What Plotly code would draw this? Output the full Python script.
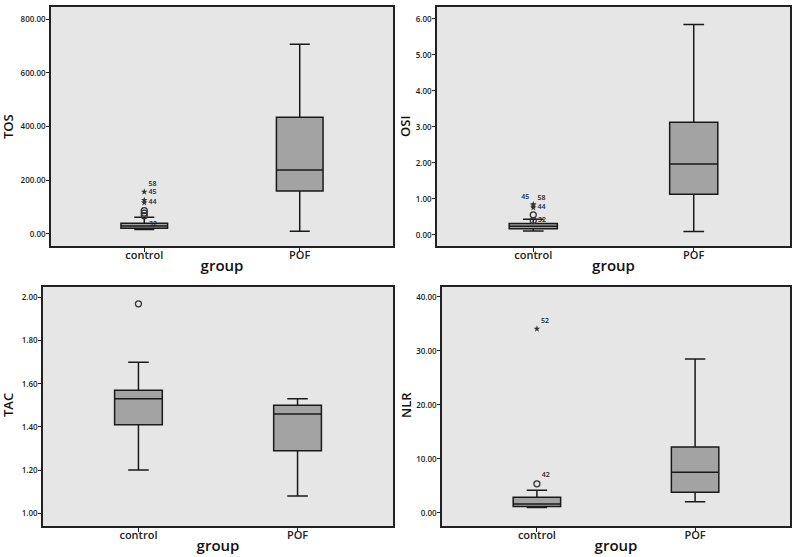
import plotly.graph_objects as go

groups = ["control", "POF"]

# box stats per panel: lower whisker, Q1, median, Q3, upper whisker (control, POF)
tos_low = [17, 10]
tos_q1 = [21, 160]
tos_med = [30, 238]
tos_q3 = [40, 434]
tos_high = [62, 706]
tos_circ = [87, 78, 68]
tos_circ_lbl = ["", "", "32"]
tos_star = [157, 126, 117]
tos_star_lbl = ["58", "45", "44"]

osi_low = [0.11, 0.10]
osi_q1 = [0.17, 1.13]
osi_med = [0.24, 1.97]
osi_q3 = [0.32, 3.13]
osi_high = [0.44, 5.85]
osi_circ = [0.56, 0.40]
osi_circ_lbl = ["", "32"]
osi_star = [0.85, 0.82, 0.76]
osi_star_lbl = ["45", "58", "44"]

tac_low = [1.20, 1.08]
tac_q1 = [1.41, 1.29]
tac_med = [1.53, 1.46]
tac_q3 = [1.57, 1.50]
tac_high = [1.70, 1.53]
tac_circ = [1.97]
tac_circ_lbl = [""]
tac_star = []
tac_star_lbl = []

nlr_low = [1.0, 2.1]
nlr_q1 = [1.22, 3.83]
nlr_med = [1.66, 7.54]
nlr_q3 = [2.93, 12.2]
nlr_high = [4.2, 28.5]
nlr_circ = [5.4]
nlr_circ_lbl = ["42"]
nlr_star = [34.1]
nlr_star_lbl = ["52"]

panels = [
    dict(name="TOS", low=tos_low, q1=tos_q1, med=tos_med, q3=tos_q3, high=tos_high,
         circ=tos_circ, circ_lbl=tos_circ_lbl, star=tos_star, star_lbl=tos_star_lbl,
         circ_pos=["middle right", "middle right", "bottom right"],
         star_pos=["top right", "top right", "middle right"],
         yrange=[-44.7, 844.7], dtick=200, title_xy=(8, 127),
         dx=[51 / 800, 393 / 800], dy=[1 - 246 / 557, 1 - 7 / 557]),
    dict(name="OSI", low=osi_low, q1=osi_q1, med=osi_med, q3=osi_q3, high=osi_high,
         circ=osi_circ, circ_lbl=osi_circ_lbl, star=osi_star, star_lbl=osi_star_lbl,
         circ_pos=["middle right", "middle right"],
         star_pos=["top left", "top right", "middle right"],
         yrange=[-0.306, 6.333], dtick=1, title_xy=(405, 127),
         dx=[437 / 800, 790 / 800], dy=[1 - 246 / 557, 1 - 7 / 557]),
    dict(name="TAC", low=tac_low, q1=tac_q1, med=tac_med, q3=tac_q3, high=tac_high,
         circ=tac_circ, circ_lbl=tac_circ_lbl, star=tac_star, star_lbl=tac_star_lbl,
         circ_pos=["top right"], star_pos=[],
         yrange=[0.941, 2.048], dtick=0.2, title_xy=(8, 405),
         dx=[43 / 800, 393 / 800], dy=[1 - 526 / 557, 1 - 287 / 557]),
    dict(name="NLR", low=nlr_low, q1=nlr_q1, med=nlr_med, q3=nlr_q3, high=nlr_high,
         circ=nlr_circ, circ_lbl=nlr_circ_lbl, star=nlr_star, star_lbl=nlr_star_lbl,
         circ_pos=["top right"], star_pos=["top right"],
         yrange=[-2.41, 41.85], dtick=10, title_xy=(406, 405),
         dx=[442 / 800, 790 / 800], dy=[1 - 526 / 557, 1 - 287 / 557]),
]

FONT = "Open Sans"
fig = go.Figure()

for i, p in enumerate(panels):
    n = "" if i == 0 else str(i + 1)
    xa, ya = "x" + n, "y" + n

    fig.add_trace(go.Box(
        x=groups, lowerfence=p["low"], q1=p["q1"], median=p["med"], q3=p["q3"],
        upperfence=p["high"], width=0.3, whiskerwidth=0.43,
        fillcolor="#a3a3a3", line=dict(color="#1a1a1a", width=1.5),
        boxpoints=False, hoverinfo="skip", showlegend=False, xaxis=xa, yaxis=ya))

    if p["circ"]:
        fig.add_trace(go.Scatter(
            x=["control"] * len(p["circ"]), y=p["circ"], text=p["circ_lbl"],
            mode="markers+text", textposition=p["circ_pos"],
            textfont=dict(size=7, color="#222", family=FONT, weight=600),
            marker=dict(symbol="circle-open", size=6, color="#333", line=dict(width=1.3)),
            showlegend=False, xaxis=xa, yaxis=ya))
    if p["star"]:
        fig.add_trace(go.Scatter(
            x=["control"] * len(p["star"]), y=p["star"], text=p["star_lbl"],
            mode="markers+text", textposition=p["star_pos"],
            textfont=dict(size=7, color="#222", family=FONT, weight=600),
            marker=dict(symbol="star", size=5, color="#333"),
            showlegend=False, xaxis=xa, yaxis=ya))

    fig.layout["xaxis" + n] = dict(
        domain=p["dx"], anchor=ya, type="category", categoryorder="array",
        categoryarray=groups, range=[-0.6, 1.6],
        showline=True, linecolor="#222", linewidth=1.5, mirror=True,
        ticks="outside", ticklen=4, tickcolor="#222", showgrid=False, zeroline=False,
        ticklabelstandoff=-6,
        tickfont=dict(size=11, color="#222", family=FONT, weight=600),
        title=dict(text="group", standoff=0,
                   font=dict(size=15, color="#111", family=FONT, weight=600)))
    fig.layout["yaxis" + n] = dict(
        domain=p["dy"], anchor=xa, range=p["yrange"], dtick=p["dtick"], tick0=0,
        tickformat=".2f", showline=True, linecolor="#222", linewidth=1.5, mirror=True,
        ticks="outside", ticklen=3, tickcolor="#222", showgrid=False, zeroline=False,
        ticklabelstandoff=-1,
        tickfont=dict(size=8, color="#222", family=FONT, weight=600))

    # y titles placed by hand so they sit at the same spot as the reference
    tx, ty = p["title_xy"]
    fig.add_annotation(text=p["name"], x=tx / 800, y=1 - ty / 557, xref="paper", yref="paper",
                       textangle=-90, showarrow=False, xanchor="center", yanchor="middle",
                       font=dict(size=13, color="#111", family=FONT, weight=600))

fig.update_layout(
    width=800, height=557, margin=dict(l=0, r=0, t=0, b=0),
    paper_bgcolor="white", plot_bgcolor="#e6e6e6",
)

# page body has a default 8px margin; drop it so the figure fills the window
fig.write_html("out.html", config={"displayModeBar": False},
               post_script="document.body.style.margin='0';")
